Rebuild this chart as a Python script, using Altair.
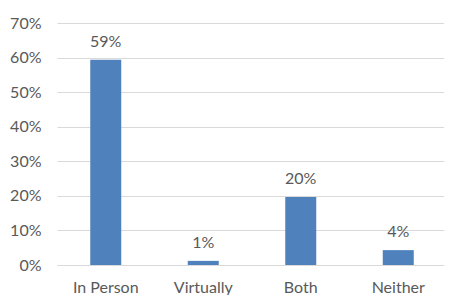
import altair as alt
import pandas as pd

categories = ["In Person", "Virtually", "Both", "Neither"]
values = [0.594, 0.012, 0.197, 0.043]

df = pd.DataFrame({"cat": categories, "val": values})

FONT = "Lato"
GREY = "#595959"
FS = 16

base = alt.Chart(df).encode(
    x=alt.X("cat:N", sort=categories, title=None,
            scale=alt.Scale(paddingInner=0, paddingOuter=0),
            axis=alt.Axis(labelAngle=0, ticks=False, domain=True, domainColor="#d9d9d9",
                          labelFont=FONT, labelFontSize=FS, labelColor=GREY,
                          labelPadding=14, grid=False)),
    y=alt.Y("val:Q", title=None,
            scale=alt.Scale(domain=[0, 0.7], nice=False),
            axis=alt.Axis(format=".0%", values=[0, 0.1, 0.2, 0.3, 0.4, 0.5, 0.6, 0.7],
                          ticks=False, domain=False, gridColor="#d9d9d9", gridWidth=1,
                          labelFont=FONT, labelFontSize=FS, labelColor=GREY,
                          labelPadding=16)),
)

bars = base.mark_bar(size=31, color="#4f81bd")
labels = base.mark_text(dy=-13, baseline="alphabetic", font=FONT, fontSize=FS, color=GREY).encode(
    text=alt.Text("val:Q", format=".0%")
)

chart = (bars + labels).properties(
    width=390, height=242,
    autosize=alt.AutoSizeParams(type="none"),
    padding={"left": 49, "top": 15, "right": -3, "bottom": 30},
    background="white",
).configure_view(stroke=None)

chart.save("out.html", embed_options={"renderer": "svg", "actions": False})
